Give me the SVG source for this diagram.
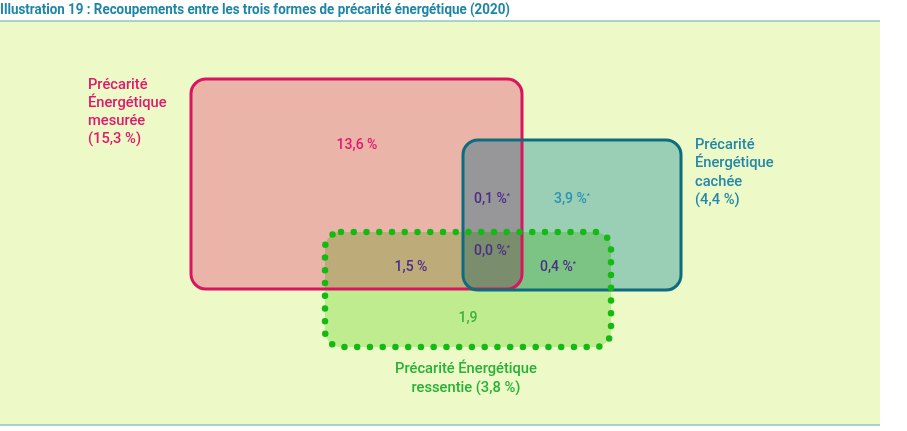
<svg xmlns="http://www.w3.org/2000/svg" width="907" height="431" viewBox="0 0 907 431">
<style>
text{font-family:Roboto,"Liberation Sans",sans-serif}
.title{font-size:14.5px;font-weight:700;fill:#1d86a8}
.lbl{font-size:14.7px;font-weight:500}
.num{font-size:14px;font-weight:500}
.pink{fill:#e2186d}
.teal{fill:#2288a8}
.green{fill:#27b233}
.purple{fill:#4b2d88}
.tealn{fill:#2a92b5}
.greenn{fill:#3bb040}
.sup{font-size:7px}
.blend{mix-blend-mode:multiply}
</style>
<rect x="0" y="0" width="907" height="431" fill="#ffffff"/>
<rect x="0" y="21" width="880" height="404" fill="#eef9c8"/>
<line x1="0" y1="21" x2="880" y2="21" stroke="#5aa9b8" stroke-width="1.2"/>
<line x1="0" y1="425" x2="880" y2="425" stroke="#5aa9b8" stroke-width="1.2"/>
<text class="title" x="0" y="13.5" textLength="510" lengthAdjust="spacingAndGlyphs">Illustration 19 : Recoupements entre les trois formes de précarité énergétique (2020)</text>

<g id="mesuree">
<rect class="blend" x="191" y="79" width="331" height="210" rx="15" fill="#fbb9d6"/>
</g>
<g id="cachee">
<rect class="blend" x="463" y="140" width="218" height="150" rx="15" fill="#a5d4e7"/>
</g>
<g id="ressentie">
<rect class="blend" x="325" y="232" width="286" height="115" rx="16" fill="#cef2b8"/>
</g>
<g id="outlines">
<rect x="191" y="79" width="331" height="210" rx="15" fill="none" stroke="#d9155f" stroke-width="3"/>
<rect x="463" y="140" width="218" height="150" rx="15" fill="none" stroke="#0d6d7f" stroke-width="3"/>
<rect x="325" y="232" width="286" height="115" rx="16" fill="none" stroke="#12bb12" stroke-width="6.5" stroke-linecap="round" stroke-dasharray="0 12.75"/>
</g>

<g id="labels">
<text class="lbl pink" x="88" y="89">Précarité</text>
<text class="lbl pink" x="88" y="107">Énergétique</text>
<text class="lbl pink" x="88" y="125">mesurée</text>
<text class="lbl pink" x="88" y="143">(15,3 %)</text>
<text class="lbl teal" x="695" y="149">Précarité</text>
<text class="lbl teal" x="695" y="167">Énergétique</text>
<text class="lbl teal" x="695" y="186">cachée</text>
<text class="lbl teal" x="695" y="204">(4,4 %)</text>
<text class="lbl green" x="466" y="373" text-anchor="middle">Précarité Énergétique</text>
<text class="lbl green" x="466" y="392" text-anchor="middle">ressentie (3,8 %)</text>
</g>

<g id="values">
<text class="num pink" x="357" y="149" text-anchor="middle">13,6 %</text>
<text class="num purple" x="474" y="203">0,1 %<tspan class="sup" dy="-5">*</tspan></text>
<text class="num tealn" x="554" y="203">3,9 %<tspan class="sup" dy="-5">*</tspan></text>
<text class="num purple" x="474" y="255">0,0 %<tspan class="sup" dy="-5">*</tspan></text>
<text class="num purple" x="411" y="271" text-anchor="middle">1,5 %</text>
<text class="num purple" x="540" y="271">0,4 %<tspan class="sup" dy="-5">*</tspan></text>
<text class="num greenn" x="468" y="322" text-anchor="middle">1,9</text>
</g>
</svg>
